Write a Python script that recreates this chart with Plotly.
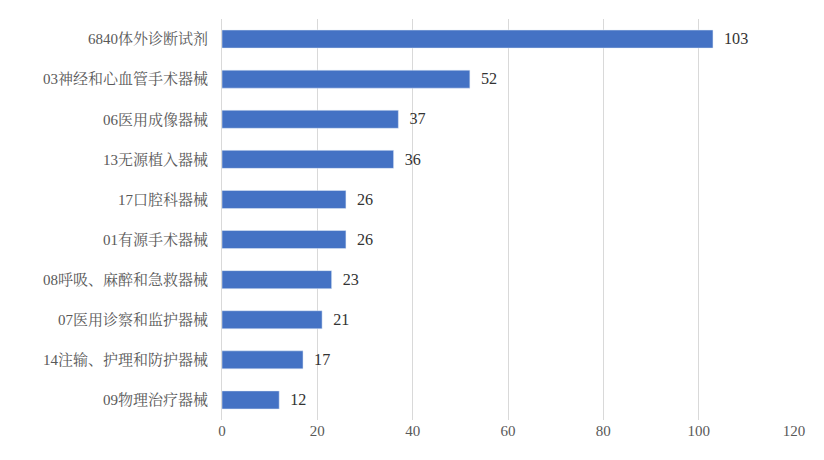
import plotly.graph_objects as go

categories = ["6840体外诊断试剂", "03神经和心血管手术器械", "06医用成像器械", "13无源植入器械",
              "17口腔科器械", "01有源手术器械", "08呼吸、麻醉和急救器械", "07医用诊察和监护器械",
              "14注输、护理和防护器械", "09物理治疗器械"]
values = [103, 52, 37, 36, 26, 26, 23, 21, 17, 12]

font = "Liberation Serif, Noto Serif CJK SC, Noto Sans CJK SC, serif"

fig = go.Figure(go.Bar(
    y=categories, x=values, orientation="h",
    marker_color="#4472C4", width=0.45,
    text=[f"  {v}" for v in values], textposition="outside",
    textfont=dict(size=17, color="#333", family=font),
    cliponaxis=False,
))
fig.update_layout(
    width=808, height=452,
    margin=dict(l=214, r=15, t=11, b=40),
    plot_bgcolor="white", paper_bgcolor="white",
    showlegend=False,
    font=dict(family=font, size=15, color="#595959"),
)
fig.update_xaxes(range=[0, 120], dtick=20, showgrid=True, gridcolor="#D9D9D9",
                 zeroline=False, ticks="", tickfont=dict(size=15))
fig.update_yaxes(autorange="reversed", showline=True, linecolor="#D9D9D9",
                 ticks="", ticklabelstandoff=10, tickfont=dict(size=15))
fig.write_html("out.html")
